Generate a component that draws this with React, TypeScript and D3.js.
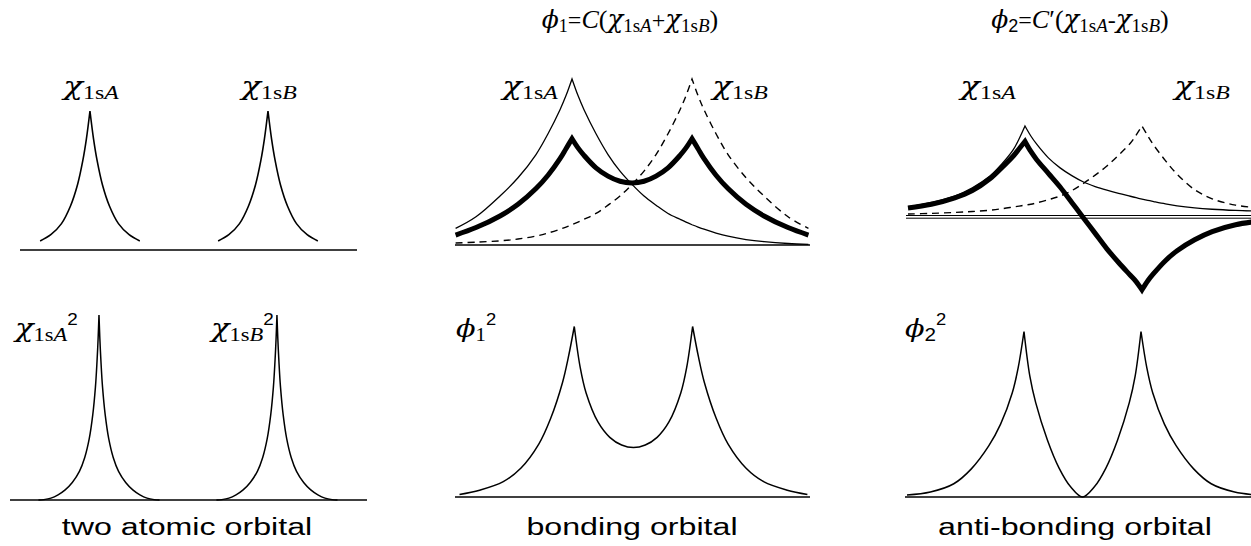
import React from "react";
import * as d3 from "d3";

// ---------------- data ----------------
// x in bond units: nucleus A at 0, nucleus B at 1; y relative to the chi peak
const nucleiX = [0, 1];

// panel 1: single atomic orbitals (offsets around each nucleus)
const atomOffsets = [-0.28, -0.22, -0.16, -0.11, -0.07, -0.04, -0.02, 0, 0.02, 0.04, 0.07, 0.11, 0.16, 0.22, 0.28];
const atomChiA = [0.065, 0.11, 0.19, 0.315, 0.47, 0.645, 0.8, 1, 0.8, 0.645, 0.47, 0.315, 0.19, 0.11, 0.065];
const atomChiB = [0.065, 0.11, 0.19, 0.315, 0.47, 0.645, 0.8, 1, 0.8, 0.645, 0.47, 0.315, 0.19, 0.11, 0.065];

// panel 4: squared atomic orbitals
const sqOffsets = [-0.34, -0.31, -0.27, -0.23, -0.19, -0.15, -0.11, -0.08, -0.055, -0.035, -0.02, -0.011, -0.005, 0, 0.005, 0.011, 0.02, 0.035, 0.055, 0.08, 0.11, 0.15, 0.19, 0.23, 0.27, 0.31, 0.34];
const atomChiA2 = [0, 0.002, 0.01, 0.028, 0.055, 0.095, 0.155, 0.23, 0.33, 0.46, 0.61, 0.75, 0.87, 1, 0.87, 0.75, 0.61, 0.46, 0.33, 0.23, 0.155, 0.095, 0.055, 0.028, 0.01, 0.002, 0];
const atomChiB2 = [0, 0.002, 0.01, 0.028, 0.055, 0.095, 0.155, 0.23, 0.33, 0.46, 0.61, 0.75, 0.87, 1, 0.87, 0.75, 0.61, 0.46, 0.33, 0.23, 0.155, 0.095, 0.055, 0.028, 0.01, 0.002, 0];

// bonding panels
const bondX = [-0.97, -0.8, -0.6, -0.45, -0.3, -0.2, -0.1, -0.05, 0, 0.05, 0.1, 0.2, 0.3, 0.4, 0.5, 0.6, 0.7, 0.8, 0.9, 0.95, 1, 1.05, 1.1, 1.2, 1.3, 1.45, 1.6, 1.8, 1.97];
const bondChiA = [0.1, 0.17, 0.295, 0.405, 0.545, 0.67, 0.815, 0.9, 1, 0.9, 0.815, 0.67, 0.545, 0.445, 0.365, 0.295, 0.24, 0.19, 0.155, 0.138, 0.122, 0.108, 0.095, 0.072, 0.053, 0.033, 0.02, 0.009, 0.004];
const bondChiB = [0.012, 0.017, 0.025, 0.036, 0.054, 0.072, 0.095, 0.108, 0.122, 0.138, 0.155, 0.19, 0.24, 0.295, 0.365, 0.445, 0.545, 0.67, 0.815, 0.9, 1, 0.9, 0.815, 0.67, 0.545, 0.405, 0.295, 0.17, 0.1];
const bondPhi1 = [0.06, 0.105, 0.175, 0.245, 0.34, 0.42, 0.52, 0.58, 0.64, 0.585, 0.54, 0.465, 0.415, 0.384, 0.374, 0.384, 0.415, 0.465, 0.54, 0.585, 0.64, 0.58, 0.52, 0.42, 0.34, 0.245, 0.175, 0.105, 0.06];
const bondPhi1Sq = [0.015, 0.04, 0.09, 0.17, 0.31, 0.46, 0.67, 0.82, 1, 0.76, 0.61, 0.44, 0.35, 0.305, 0.29, 0.305, 0.35, 0.44, 0.61, 0.76, 1, 0.82, 0.67, 0.46, 0.31, 0.17, 0.09, 0.04, 0.015];

// anti-bonding panels
const antiX = [-1.0, -0.8, -0.6, -0.45, -0.3, -0.2, -0.1, -0.05, 0, 0.05, 0.1, 0.2, 0.3, 0.4, 0.5, 0.6, 0.7, 0.8, 0.9, 0.95, 1, 1.05, 1.1, 1.2, 1.3, 1.45, 1.6, 1.8, 2.0];
const antiChiA = [0.11, 0.16, 0.23, 0.32, 0.45, 0.58, 0.74, 0.86, 1, 0.89, 0.8, 0.65, 0.54, 0.455, 0.385, 0.335, 0.295, 0.26, 0.228, 0.212, 0.197, 0.183, 0.17, 0.145, 0.123, 0.1, 0.085, 0.072, 0.064];
const antiChiB = [0.033, 0.04, 0.05, 0.06, 0.075, 0.09, 0.11, 0.12, 0.13, 0.14, 0.155, 0.19, 0.23, 0.29, 0.37, 0.46, 0.56, 0.68, 0.81, 0.9, 1, 0.89, 0.79, 0.62, 0.47, 0.3, 0.2, 0.13, 0.1];
const antiPhi2 = [0.1, 0.14, 0.21, 0.29, 0.42, 0.54, 0.67, 0.75, 0.83, 0.72, 0.63, 0.48, 0.33, 0.16, -0.01, -0.18, -0.35, -0.5, -0.64, -0.71, -0.8, -0.7, -0.62, -0.48, -0.37, -0.25, -0.16, -0.085, -0.045];
const antiPhi2Sq = [0.012, 0.03, 0.08, 0.17, 0.31, 0.44, 0.63, 0.78, 1, 0.73, 0.57, 0.345, 0.175, 0.06, 0, 0.06, 0.175, 0.345, 0.57, 0.73, 1, 0.78, 0.63, 0.44, 0.31, 0.17, 0.08, 0.03, 0.012];

const captions = ["two atomic orbital", "bonding orbital", "anti-bonding orbital"];

// ---------------- layout ----------------
const SERIF = "'Liberation Serif','Times New Roman',Times,serif";
const GREEK = "'DejaVu Serif','Liberation Serif',serif";
const SANS = "'Liberation Sans',Arial,Helvetica,sans-serif";

type PanelCfg = { dom: [number, number]; xr: [number, number]; y0: number; y1: number };
const panels: Record<string, PanelCfg> = {
  p1: { dom: [-0.393, 1.5], xr: [20, 357], y0: 250, y1: 111 },
  p4: { dom: [-0.5, 1.506], xr: [10, 367], y0: 500, y1: 315 },
  p2: { dom: [-0.975, 1.983], xr: [455, 810], y0: 245, y1: 79 },
  p5: { dom: [-1.008, 1.992], xr: [455, 810], y0: 497, y1: 326.5 },
  p3: { dom: [-1.017, 2.0], xr: [906, 1259], y0: 217, y1: 126 },
  p6: { dom: [-1.017, 2.0], xr: [905, 1258], y0: 497, y1: 331.5 },
};

function scalesOf(p: PanelCfg) {
  return {
    x: d3.scaleLinear().domain(p.dom).range(p.xr),
    y: d3.scaleLinear().domain([0, 1]).range([p.y0, p.y1]),
  };
}

// smooth path that keeps sharp cusps at the nuclei
function cuspPath(xs: number[], ys: number[], p: PanelCfg, cusps: number[]) {
  const s = scalesOf(p);
  const segs: number[][] = [];
  let cur: number[] = [];
  xs.forEach((x, i) => {
    cur.push(i);
    if (i > 0 && i < xs.length - 1 && cusps.some((c) => Math.abs(c - x) < 1e-9)) {
      segs.push(cur);
      cur = [i];
    }
  });
  segs.push(cur);
  const line = d3
    .line<number>()
    .x((i) => s.x(xs[i]))
    .y((i) => s.y(ys[i]))
    .curve(d3.curveCatmullRom.alpha(0.5));
  let d = "";
  segs.forEach((idx, k) => {
    const part = line(idx) || "";
    d += k === 0 ? part : part.replace(/^M[^CL]*/, "");
  });
  return d;
}

type Part = { t: string; it?: boolean; s?: number; dy?: number; f?: string };

function Label({ x, y, parts, anchor = "middle", sx = 1.25 }: { x: number; y: number; parts: Part[]; anchor?: string; sx?: number }) {
  return (
    <g transform={`translate(${x},${y}) scale(${sx},1)`}>
      <text textAnchor={anchor} fill="#000">
        {parts.map((p, i) => (
          <tspan
            key={i}
            fontFamily={p.f ?? SERIF}
            fontStyle={p.it ? "italic" : "normal"}
            fontSize={p.s ?? 26}
            dy={p.dy ?? 0}
          >
            {p.t}
          </tspan>
        ))}
      </text>
    </g>
  );
}

const CHI: Part = { t: "χ", it: true, s: 26, f: GREEK };
const PHI: Part = { t: "ϕ", it: true, s: 25, f: GREEK };
const chiParts = (sub: string): Part[] => [CHI, { t: "1s", s: 19, dy: 4 }, { t: sub, it: true, s: 19 }];
const chiSqParts = (sub: string): Part[] => [...chiParts(sub), { t: "2", s: 16, f: SANS, dy: -16 }];
const phiSqParts = (n: string, sansSub: boolean): Part[] => [
  PHI,
  { t: n, s: 18, dy: 4, f: sansSub ? SANS : SERIF },
  { t: "2", s: 16, f: SANS, dy: -16 },
];
const title1: Part[] = [
  PHI,
  { t: "1", s: 18, dy: 4 },
  { t: "=", s: 24, dy: -4 },
  { t: "C", it: true },
  { t: "(" },
  CHI,
  { t: "1s", s: 19, dy: 4 },
  { t: "A", it: true, s: 19 },
  { t: "+", s: 24, dy: -4 },
  CHI,
  { t: "1s", s: 19, dy: 4 },
  { t: "B", it: true, s: 19 },
  { t: ")", dy: -4 },
];
const title2: Part[] = [
  PHI,
  { t: "2", s: 18, dy: 4, f: SANS },
  { t: "=", s: 24, dy: -4 },
  { t: "C", it: true },
  { t: "′" },
  { t: "(" },
  CHI,
  { t: "1s", s: 19, dy: 4 },
  { t: "A", it: true, s: 19 },
  { t: "-", s: 24, dy: -4 },
  CHI,
  { t: "1s", s: 19, dy: 4 },
  { t: "B", it: true, s: 19 },
  { t: ")", dy: -4 },
];

function Baseline({ p, dy = 0, w = 1.6 }: { p: PanelCfg; dy?: number; w?: number }) {
  const s = scalesOf(p);
  return (
    <line x1={s.x(p.dom[0])} x2={s.x(p.dom[1])} y1={s.y(0) + dy} y2={s.y(0) + dy} stroke="#000" strokeWidth={w} />
  );
}

export default function App() {
  const A = nucleiX[0];
  const B = nucleiX[1];
  const atomXA = atomOffsets.map((o) => A + o);
  const atomXB = atomOffsets.map((o) => B + o);
  const sqXA = sqOffsets.map((o) => A + o);
  const sqXB = sqOffsets.map((o) => B + o);
  const thin = { fill: "none", stroke: "#000", strokeWidth: 1.3 } as const;
  const thick = { fill: "none", stroke: "#000", strokeWidth: 5, strokeLinejoin: "miter" as const };
  const dashed = { fill: "none", stroke: "#000", strokeWidth: 1.4, strokeDasharray: "7 5" };

  return (
    <svg
      width={1251}
      height={546}
      viewBox="0 0 1251 546"
      style={{ position: "absolute", left: 0, top: 0, background: "#fff" }}
    >
      <rect width={1251} height={546} fill="#fff" />

      {/* panel 1: atomic orbitals */}
      <Baseline p={panels.p1} />
      <path d={cuspPath(atomXA, atomChiA, panels.p1, nucleiX)} {...thin} strokeWidth={1.6} />
      <path d={cuspPath(atomXB, atomChiB, panels.p1, nucleiX)} {...thin} strokeWidth={1.6} />
      <Label x={91} y={95} parts={chiParts("A")} />
      <Label x={269} y={95} parts={chiParts("B")} />

      {/* panel 4: squared atomic orbitals */}
      <Baseline p={panels.p4} />
      <path d={cuspPath(sqXA, atomChiA2, panels.p4, nucleiX)} {...thin} strokeWidth={1.5} />
      <path d={cuspPath(sqXB, atomChiB2, panels.p4, nucleiX)} {...thin} strokeWidth={1.5} />
      <Label x={15} y={337} parts={chiSqParts("A")} anchor="start" sx={1.18} />
      <Label x={211} y={337} parts={chiSqParts("B")} anchor="start" sx={1.18} />

      {/* panel 2: bonding orbital */}
      <Label x={630} y={28} parts={title1} sx={1.0} />
      <Baseline p={panels.p2} />
      <path d={cuspPath(bondX, bondChiA, panels.p2, nucleiX)} {...thin} />
      <path d={cuspPath(bondX, bondChiB, panels.p2, nucleiX)} {...dashed} />
      <path d={cuspPath(bondX, bondPhi1, panels.p2, nucleiX)} {...thick} />
      <Label x={530} y={95} parts={chiParts("A")} />
      <Label x={740} y={95} parts={chiParts("B")} />

      {/* panel 5: bonding density */}
      <Baseline p={panels.p5} />
      <path d={cuspPath(bondX, bondPhi1Sq, panels.p5, nucleiX)} {...thin} strokeWidth={1.5} />
      <Label x={456} y={337} parts={phiSqParts("1", false)} anchor="start" sx={1.15} />

      {/* panel 3: anti-bonding orbital */}
      <Label x={1080} y={28} parts={title2} sx={1.0} />
      <Baseline p={panels.p3} dy={-1.5} w={1} />
      <Baseline p={panels.p3} dy={1.2} w={1} />
      <path d={cuspPath(antiX, antiChiA, panels.p3, nucleiX)} {...thin} />
      <path d={cuspPath(antiX, antiChiB, panels.p3, nucleiX)} {...dashed} />
      <path d={cuspPath(antiX, antiPhi2, panels.p3, nucleiX)} {...thick} />
      <Label x={988} y={95} parts={chiParts("A")} />
      <Label x={1202} y={95} parts={chiParts("B")} />

      {/* panel 6: anti-bonding density */}
      <Baseline p={panels.p6} />
      <path d={cuspPath(antiX, antiPhi2Sq, panels.p6, nucleiX)} {...thin} strokeWidth={1.5} />
      <Label x={905} y={337} parts={phiSqParts("2", true)} anchor="start" sx={1.15} />

      {/* captions */}
      {captions.map((c, i) => (
        <g key={c} transform={`translate(${[187, 632, 1075][i]},535) scale(1.4,1)`}>
          <text textAnchor="middle" fontFamily={SANS} fontSize={23} fill="#000">
            {c}
          </text>
        </g>
      ))}
    </svg>
  );
}
